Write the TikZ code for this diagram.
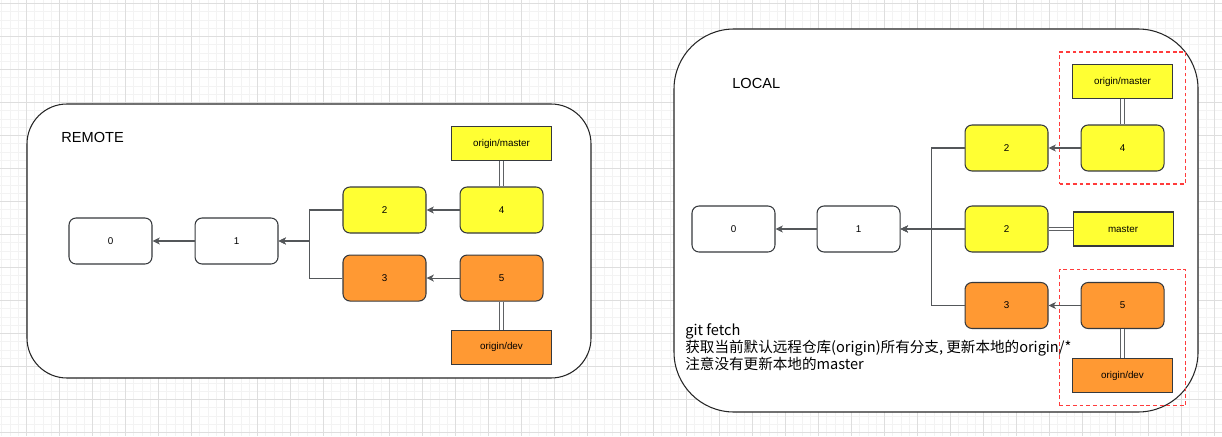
\documentclass[tikz,border=0pt]{standalone}
\usepackage{fontspec}
\setmainfont{Liberation Sans}
\newfontfamily\cjk{Noto Sans CJK SC}
\usepackage{xcolor}
\usepackage{tikz}
\usetikzlibrary{shapes,arrows.meta,positioning,calc,fit}
\definecolor{gityellow}{RGB}{255, 255, 51}
\definecolor{gitorange}{RGB}{255, 153, 51}
\definecolor{edgecolor}{RGB}{54, 57, 61}
\definecolor{fetchred}{RGB}{255, 60, 60}
\definecolor{gridminor}{RGB}{243, 243, 243}
\definecolor{gridmajor}{RGB}{222, 222, 222}

\begin{document}
\begin{tikzpicture}[x=0.02cm,y=-0.02cm,>={Stealth[length=4.2pt,width=4pt,inset=1.2pt]},every node/.style={font=\fontsize{5.6}{6.5}\selectfont},
commit/.style={draw=edgecolor,line width=0.6pt,rounded corners=4pt,minimum width=1.66cm,minimum height=0.92cm,inner sep=0pt},
yel/.style={fill=gityellow},org/.style={fill=gitorange},
branchbox/.style={draw=edgecolor,line width=0.6pt,minimum width=2cm,minimum height=0.68cm,inner sep=0pt},
flow/.style={draw=edgecolor!85,line width=0.6pt},
ptr/.style={draw=edgecolor!80,line width=0.65pt,double=white,double distance=1.5pt},
dashbox/.style={draw=fetchred,dashed,dash pattern=on 2.2pt off 1.6pt,line width=0.8pt,inner sep=0.25cm},
repo/.style={draw=black!85,line width=0.6pt},
title/.style={font=\fontsize{8.3}{10}\selectfont,anchor=west,inner sep=0pt}]
% background and grid
\useasboundingbox (0,0) rectangle (1222,436);
\fill[white] (0,0) rectangle (1222,436);
\foreach \k in {-3,...,145} \draw[gridminor,line width=0.4pt] ({26.5+8.25*\k},0) -- ({26.5+8.25*\k},436);
\foreach \k in {0,...,53} \draw[gridminor,line width=0.4pt] (0,{3.5+8.25*\k}) -- (1222,{3.5+8.25*\k});
\foreach \k in {0,...,36} \draw[gridmajor,line width=0.5pt] ({26.5+33*\k},0) -- ({26.5+33*\k},436);
\foreach \k in {0,...,13} \draw[gridmajor,line width=0.5pt] (0,{3.5+33*\k}) -- (1222,{3.5+33*\k});

% REMOTE
\draw[repo,fill=white,rounded corners=0.8cm] (27,104) rectangle (591,378);
\node[title] (remotetitle) at (61,137) {REMOTE};
\node[commit,fill=white] (r0) at (110.5,241) {0};
\node[commit,fill=white,right=0.84cm of r0] (r1) {1};
\node[commit,yel] (r2) at (384.5,210) {2};
\node[commit,org,below=0.42cm of r2] (r3) {3};
\node[commit,yel,right=0.66cm of r2] (r4) {4};
\node[commit,org,right=0.66cm of r3] (r5) {5};
\node[branchbox,yel,above=0.5cm of r4] (rmaster) {origin/master};
\node[branchbox,org,below=0.56cm of r5] (rdev) {origin/dev};
\draw[flow,->] (r4) -- (r2);
\draw[flow,->] (r5) -- (r3);
\draw[flow,->] (r2.west) -- ++(-33,0) |- (r1.east);
\draw[flow,->] (r3.west) -- ++(-33,0) |- (r1.east);
\draw[flow,->] (r1) -- (r0);
\draw[ptr] (rmaster.south) -- (r4.north);
\draw[ptr] (r5.south) -- (rdev.north);

% LOCAL
\draw[repo,fill=white,rounded corners=1.2cm] (674,29) rectangle (1198,412);
\node[title] (localtitle) at (732,83) {LOCAL};
\node[commit,fill=white] (l0) at (733.5,229) {0};
\node[commit,fill=white,right=0.82cm of l0] (l1) {1};
\node[commit,yel] (l2a) at (1006.5,148) {2};
\node[commit,yel] (l2b) at (1006.5,229) {2};
\node[commit,org] (l3) at (1006.5,305.5) {3};
\node[commit,yel,right=0.64cm of l2a] (l4) {4};
\node[commit,org,right=0.64cm of l3] (l5) {5};
\node[branchbox,yel,above=0.5cm of l4] (lorigin) {origin/master};
\node[branchbox,yel,right=0.48cm of l2b] (lmaster) {master};
\node[branchbox,org,below=0.58cm of l5] (ldev) {origin/dev};
\node[dashbox,fit=(lorigin)(l4)] (fetchtop) {};
\node[dashbox,fit=(l5)(ldev)] (fetchbot) {};
\draw[flow,->] (l4) -- (l2a);
\draw[flow,->] (l5) -- (l3);
\draw[flow,->] (l2a.west) -- ++(-33,0) |- (l1.east);
\draw[flow,->] (l3.west) -- ++(-33,0) |- (l1.east);
\draw[flow,->] (l2b) -- (l1);
\draw[flow,->] (l1) -- (l0);
\draw[ptr] (lorigin.south) -- (l4.north);
\draw[ptr] (lmaster.west) -- (l2b.east);
\draw[ptr] (l5.south) -- (ldev.north);
\node[anchor=north west,inner sep=0pt,align=left,font=\cjk\fontsize{8.3}{9.9}\selectfont] (note) at (685,323) {git fetch\\获取当前默认远程仓库(origin)所有分支, 更新本地的origin/*\\注意没有更新本地的master};
\end{tikzpicture}
\end{document}
